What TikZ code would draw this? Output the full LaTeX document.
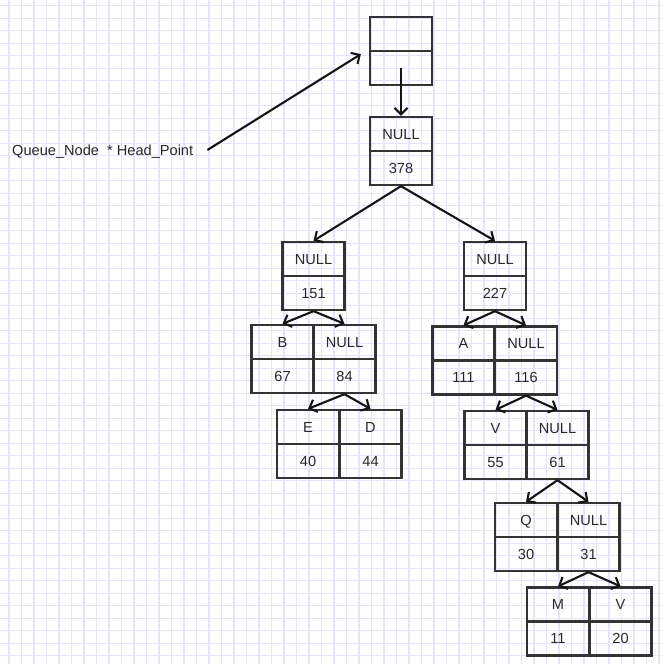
\documentclass[tikz,border=0pt]{standalone}
\usepackage{fontspec}
\setmainfont{Liberation Sans}
\usetikzlibrary{arrows.meta}
\definecolor{gridc}{RGB}{228,228,250}
\definecolor{boxc}{RGB}{51,51,51}
\definecolor{txtc}{RGB}{40,40,40}
\begin{document}
\begin{tikzpicture}[x=1pt,y=-1pt,
  cell/.style={draw=boxc,line width=2.3pt,minimum width=62pt,minimum height=34pt,
    inner sep=0pt,font=\fontsize{14.6}{17}\selectfont,text=txtc,text height=10.5pt,text depth=0pt},
  link/.style={line width=2.1pt,draw=black!92,-{Straight Barb[length=6.5pt,width=13pt]}}]
\useasboundingbox (0,0) rectangle (662,664);
\fill[white] (0,0) rectangle (662,664);
\foreach \i in {0,...,52} {
  \draw[gridc,line width=1.1pt] ({9+12.5*\i},0) -- ({9+12.5*\i},664);
  \draw[gridc,line width=1.1pt] (0,{5.7+12.5*\i}) -- (662,{5.7+12.5*\i});
}
% head pointer box
\node[cell] (t1) at (401,34) {};
\node[cell] (t2) at (401,68) {};
% root
\node[cell] (r1) at (401,134) {NULL};
\node[cell] (r2) at (401,168) {378};
% 151
\node[cell] (a1) at (313.5,259) {NULL};
\node[cell] (a2) at (313.5,293) {151};
% 227
\node[cell] (b1) at (495,259) {NULL};
\node[cell] (b2) at (495,293) {227};
% B / NULL
\node[cell] (c11) at (282.5,342) {B};
\node[cell] (c12) at (344.5,342) {NULL};
\node[cell] (c21) at (282.5,376) {67};
\node[cell] (c22) at (344.5,376) {84};
% E / D
\node[cell] (e11) at (308,427) {E};
\node[cell] (e12) at (370.5,427) {D};
\node[cell] (e21) at (308,461) {40};
\node[cell] (e22) at (370.5,461) {44};
% A / NULL
\node[cell] (d11) at (463.5,343.5) {A};
\node[cell] (d12) at (526,343.5) {NULL};
\node[cell] (d21) at (463.5,377.5) {111};
\node[cell] (d22) at (526,377.5) {116};
% V / NULL
\node[cell] (f11) at (495.5,428) {V};
\node[cell] (f12) at (557.5,428) {NULL};
\node[cell] (f21) at (495.5,462) {55};
\node[cell] (f22) at (557.5,462) {61};
% Q / NULL
\node[cell] (g11) at (526,520) {Q};
\node[cell] (g12) at (588.5,520) {NULL};
\node[cell] (g21) at (526,554) {30};
\node[cell] (g22) at (588.5,554) {31};
% M / V
\node[cell] (h11) at (558,604.5) {M};
\node[cell] (h12) at (620.5,604.5) {V};
\node[cell] (h21) at (558,638.5) {11};
\node[cell] (h22) at (620.5,638.5) {20};
% label
\node[anchor=west,inner sep=0pt,font=\fontsize{14.6}{17}\selectfont,text=txtc] (hp) at (12,152) {Queue\_Node\ \ * Head\_Point};
% connectors
\draw[link] ([xshift=14pt,yshift=2pt]hp.east) -- ([xshift=-8pt,yshift=-2pt]t1.south west);
\draw[link] (t2.center) -- (r1.north);
\draw[link] (r2.south) -- (a1.north);
\draw[link] (r2.south) -- (b1.north);
\draw[link] (a2.south) -- (c11.north);
\draw[link] (a2.south) -- (c12.north);
\draw[link] (c22.south) -- (e11.north);
\draw[link] (c22.south) -- (e12.north);
\draw[link] (b2.south) -- (d11.north);
\draw[link] (b2.south) -- (d12.north);
\draw[link] (d22.south) -- (f11.north);
\draw[link] (d22.south) -- (f12.north);
\draw[link] (f22.south) -- (g11.north);
\draw[link] (f22.south) -- (g12.north);
\draw[link] (g22.south) -- (h11.north);
\draw[link] (g22.south) -- (h12.north);
\end{tikzpicture}
\end{document}
